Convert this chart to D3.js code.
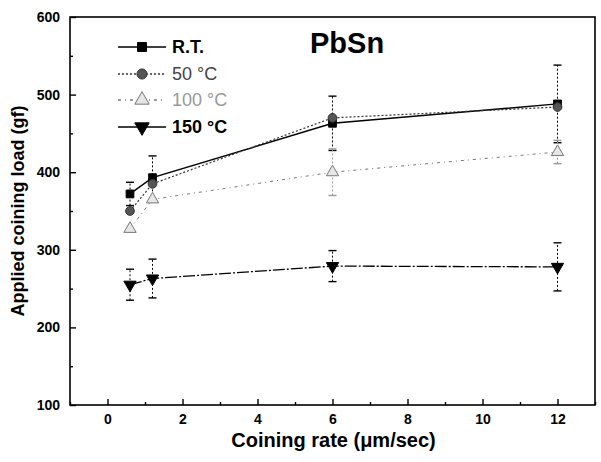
<!DOCTYPE html>
<html>
<head>
<meta charset="utf-8">
<script src="https://cdn.jsdelivr.net/npm/d3@7"></script>
<style>
  body { margin: 0; background: #fff; }
  text { font-family: "Liberation Sans", Arial, sans-serif; }
</style>
</head>
<body>
<svg></svg>
<script>
const rates = [0.6, 1.2, 6, 12];
const loadRT = [372, 393, 463, 488];
const errRT = [15, 28, 35, 50];
const load50 = [350, 385, 470, 484];
const load100 = [327, 365, 400, 426];
const err100 = [0, 0, 30, 15];
const load150 = [255, 263, 279, 278];
const err150 = [20, 25, 20, 31];
const xTicks = [0, 2, 4, 6, 8, 10, 12];
const yTicks = [100, 200, 300, 400, 500, 600];

const W = 601, H = 462;
const plotLeft = 70, plotRight = 595, plotTop = 17, plotBottom = 405;

const svg = d3.select('svg').attr('width', W).attr('height', H);

const x = d3.scaleLinear().domain([-1, 13]).range([plotLeft, plotRight]);
const y = d3.scaleLinear().domain([100, 600]).range([plotBottom, plotTop]);

// frame
svg.append('rect')
  .attr('x', plotLeft).attr('y', plotTop)
  .attr('width', plotRight - plotLeft).attr('height', plotBottom - plotTop)
  .style('fill', 'none').style('stroke', '#000').style('stroke-width', 1.6);

// x axis ticks (inward)
const xAxis = d3.axisBottom(x).tickValues(xTicks).tickSize(-6).tickPadding(9).tickFormat(d3.format('d'));
const gx = svg.append('g').attr('transform', `translate(0,${plotBottom})`).call(xAxis);
gx.select('.domain').remove();
gx.selectAll('text').style('font-size', '14px').style('font-weight', 'bold');
svg.append('g').attr('transform', `translate(0,${plotBottom})`)
  .call(d3.axisBottom(x).tickValues([-1, 1, 3, 5, 7, 9, 11, 13]).tickSize(-3).tickFormat(''))
  .select('.domain').remove();

// y axis ticks (inward)
const yAxis = d3.axisLeft(y).tickValues(yTicks).tickSize(-6).tickPadding(10);
const gy = svg.append('g').attr('transform', `translate(${plotLeft},0)`).call(yAxis);
gy.select('.domain').remove();
gy.selectAll('text').style('font-size', '14px').style('font-weight', 'bold');
svg.append('g').attr('transform', `translate(${plotLeft},0)`)
  .call(d3.axisLeft(y).tickValues([150, 250, 350, 450, 550]).tickSize(-3).tickFormat(''))
  .select('.domain').remove();
svg.selectAll('.tick line').style('stroke-width', 1.4);

// axis titles
svg.append('text')
  .attr('x', (plotLeft + plotRight) / 2 + 1).attr('y', 447)
  .attr('text-anchor', 'middle')
  .style('font-size', '20px').style('font-weight', 'bold')
  .text('Coining rate (\u03bcm/sec)');
svg.append('text')
  .attr('transform', 'translate(24,211) rotate(-90)')
  .attr('text-anchor', 'middle')
  .style('font-size', '18px').style('font-weight', 'bold')
  .text('Applied coining load (gf)');

svg.append('text')
  .attr('x', 310).attr('y', 53)
  .style('font-size', '29px').style('font-weight', 'bold')
  .text('PbSn');

const series = [
  { name: 'R.T.', vals: loadRT, err: errRT, shape: d3.symbolSquare, fill: '#000', stroke: '#000', dash: null, lw: 1.4, col: '#000', weight: 'bold' },
  { name: '50 \u00b0C', vals: load50, err: null, shape: d3.symbolCircle, fill: '#555', stroke: '#333', dash: '2,2', lw: 1.2, col: '#444', weight: 'normal' },
  { name: '100 \u00b0C', vals: load100, err: err100, shape: d3.symbolTriangle, fill: '#e6e6e6', stroke: '#777', dash: '3,4,1,4', lw: 1, col: '#999', weight: 'normal' },
  { name: '150 \u00b0C', vals: load150, err: err150, shape: d3.symbolTriangle, fill: '#000', stroke: '#000', dash: '12,2,2,2', lw: 1.3, col: '#000', weight: 'bold', flip: true }
];

const line = d3.line().x(d => x(d[0])).y(d => y(d[1]));

series.forEach(s => {
  const pts = rates.map((r, i) => [r, s.vals[i]]);

  // error bars
  if (s.err) {
    pts.forEach((p, i) => {
      const e = s.err[i];
      if (!e) return;
      const cx = x(p[0]);
      svg.append('line')
        .attr('x1', cx).attr('x2', cx)
        .attr('y1', y(p[1] - e)).attr('y2', y(p[1] + e))
        .style('stroke', s.col).style('stroke-width', 1).style('stroke-dasharray', '2,2');
      [p[1] - e, p[1] + e].forEach(v => {
        svg.append('line')
          .attr('x1', cx - 4).attr('x2', cx + 4)
          .attr('y1', y(v)).attr('y2', y(v))
          .style('stroke', s.col).style('stroke-width', 1.4);
      });
    });
  }

  svg.append('path')
    .attr('d', line(pts))
    .style('fill', 'none').style('stroke', s.stroke)
    .style('stroke-width', s.lw)
    .style('stroke-dasharray', s.dash);

  const sym = d3.symbol().type(s.shape).size(s.shape === d3.symbolTriangle ? 65 : 60);
  svg.selectAll(null).data(pts).enter().append('path')
    .attr('d', sym)
    .attr('transform', d => `translate(${x(d[0])},${y(d[1])})${s.flip ? ' rotate(180)' : ''}`)
    .style('fill', s.fill).style('stroke', s.stroke).style('stroke-width', 1);
});

// legend
const legY = [47, 74, 100, 127];
series.forEach((s, i) => {
  const g = svg.append('g').attr('transform', `translate(0,${legY[i]})`);
  g.append('line')
    .attr('x1', 118).attr('x2', 166).attr('y1', 0).attr('y2', 0)
    .style('stroke', s.stroke).style('stroke-width', s.lw + 0.3)
    .style('stroke-dasharray', i === 3 ? null : s.dash);
  g.append('path')
    .attr('d', d3.symbol().type(s.shape).size(s.shape === d3.symbolTriangle ? 90 : 80))
    .attr('transform', `translate(142,0)${s.flip ? ' rotate(180)' : ''}`)
    .style('fill', s.fill).style('stroke', s.stroke);
  g.append('text')
    .attr('x', 172).attr('y', 6)
    .style('font-size', '18px').style('font-weight', s.weight)
    .style('fill', s.col)
    .text(s.name);
});
</script>
</body>
</html>
